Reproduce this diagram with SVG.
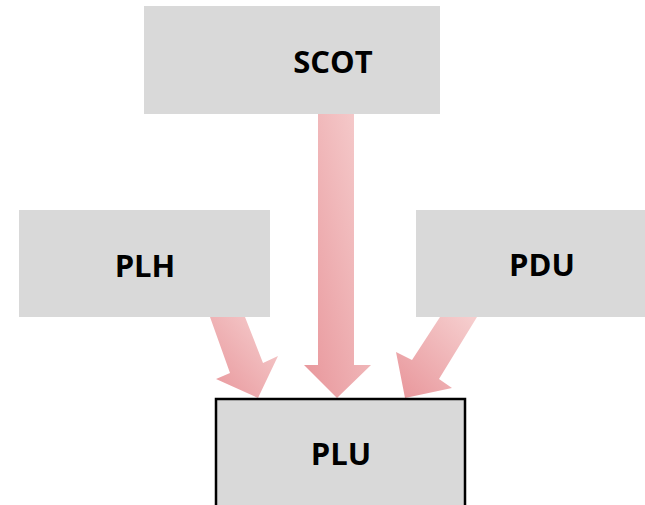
<svg xmlns="http://www.w3.org/2000/svg" width="645" height="505" viewBox="0 0 645 505">
<defs>
<linearGradient id="pink" x1="1" y1="0" x2="0" y2="1">
<stop offset="0" stop-color="#F6D0D0"/>
<stop offset="1" stop-color="#E8959A"/>
</linearGradient>
</defs>
<style>
.box{fill:#D9D9D9}
.plu{fill:#D9D9D9;stroke:#000;stroke-width:2.5}
.lbl{font-family:"Open Sans","DejaVu Sans",sans-serif;font-weight:bold;font-size:31px;fill:#000;text-anchor:middle}
.arr{fill:url(#pink)}
</style>
<rect width="645" height="505" fill="#FFFFFF"/>
<g id="connectors">
<polygon class="arr" points="318,114 354,114 354,365 371,365 337,398 304,365 318,365"/>
<polygon class="arr" points="210,317 245,317 263,363 278,356 258,398 216,379 230,373"/>
<polygon class="arr" points="440,317 477,317 439,379 452,388 405,398 396,352 412,360"/>
</g>
<g id="SCOT">
<rect class="box" x="144" y="6" width="296" height="108"/>
<text class="lbl" x="333" y="73">SCOT</text>
</g>
<g id="PLH">
<rect class="box" x="19" y="210" width="251" height="107"/>
<text class="lbl" x="145" y="277">PLH</text>
</g>
<g id="PDU">
<rect class="box" x="416" y="210" width="229" height="107"/>
<text class="lbl" x="542" y="276">PDU</text>
</g>
<g id="PLU">
<rect class="plu" x="216" y="399" width="249" height="120"/>
<text class="lbl" x="341" y="465">PLU</text>
</g>
</svg>
